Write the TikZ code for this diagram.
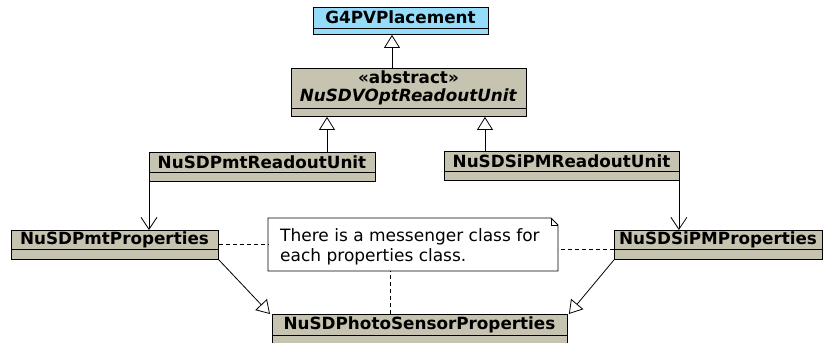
\documentclass[tikz,border=0pt]{standalone}
\usepackage{fontspec}
\setmainfont{DejaVu Sans}
\usetikzlibrary{arrows.meta,calc}
\definecolor{classfill}{RGB}{198,196,176}
\definecolor{bluefill}{RGB}{148,220,250}
\begin{document}
\begin{tikzpicture}[x=1pt,y=-1pt,
  classbox/.style={draw=black,line width=0.9pt,anchor=north west,inner sep=0pt},
  lbl/.style={font=\fontsize{16.8}{19}\selectfont\bfseries,inner sep=0pt},
  inh/.style={draw=black,line width=0.8pt,-{Triangle[open,width=16pt,length=13pt]}},
  assoc/.style={draw=black,line width=0.8pt,-{Straight Barb[width=16pt,length=12pt,line width=0.8pt]}},
  notelink/.style={draw=black,line width=0.8pt,dash pattern=on 4pt off 3pt}]
\useasboundingbox (0,0) rectangle (823,343);

% G4PVPlacement
\node[classbox,fill=bluefill,minimum width=175pt,minimum height=27pt] (g4) at (313,7) {};
\draw[line width=0.9pt] (313,28) -- (488,28);
\node[lbl] (g4t) at (400.5,17.5) {G4PVPlacement};

% abstract
\node[classbox,fill=classfill,minimum width=235pt,minimum height=48pt] (abs) at (291,68) {};
\draw[line width=0.9pt] (291,108) -- (526,108);
\node[lbl,align=center] (abst) at (408.5,88) {«abstract»\\[-1pt]\textit{NuSDVOptReadoutUnit}};

% readout units
\node[classbox,fill=classfill,minimum width=226pt,minimum height=29pt] (pmtr) at (149,152) {};
\draw[line width=0.9pt] (149,172) -- (375,172);
\node[lbl] (pmtrt) at (262,162) {NuSDPmtReadoutUnit};

\node[classbox,fill=classfill,minimum width=235pt,minimum height=29pt] (sipr) at (444,151) {};
\draw[line width=0.9pt] (444,171) -- (679,171);
\node[lbl] (siprt) at (561.5,161) {NuSDSiPMReadoutUnit};

% properties
\node[classbox,fill=classfill,minimum width=207pt,minimum height=29pt] (pmtp) at (11,230) {};
\draw[line width=0.9pt] (11,249) -- (218,249);
\node[lbl] (pmtpt) at (114.5,240) {NuSDPmtProperties};

\node[classbox,fill=classfill,minimum width=208pt,minimum height=29pt] (sipp) at (614,230) {};
\draw[line width=0.9pt] (614,249) -- (822,249);
\node[lbl] (sippt) at (718,240) {NuSDSiPMProperties};

\node[classbox,fill=classfill,minimum width=295pt,minimum height=35pt] (phot) at (272,314) {};
\draw[line width=0.9pt] (272,335) -- (567,335);
\node[lbl] (phott) at (419.5,325) {NuSDPhotoSensorProperties};

% note
\coordinate (nnw) at (268,218);
\coordinate (nse) at (558,271);
\draw[line width=0.8pt,fill=white] (268,218) -- (551,218) -- (558,225) -- (558,271) -- (268,271) -- cycle;
\draw[line width=0.6pt] (551,218) -- (551,225) -- (558,225);
\node[font=\fontsize{17}{20}\selectfont,align=left,anchor=north west,inner sep=0pt] (note) at (280,228)
  {There is a messenger class for\\each properties class.};

% inheritance
\draw[inh] (abs.north -| g4t.south) ++(-8.5,0) coordinate (a1) -- (a1 |- g4.south);
\draw[inh] ($(pmtr.north west)+(178,0)$) coordinate (a2) -- (a2 |- abs.south);
\draw[inh] ($(sipr.north west)+(41,0)$) coordinate (a3) -- (a3 |- abs.south);
\draw[inh] (pmtp.south east) -- ($(phot.north west)+(-2,0)$);
\draw[inh] (sipp.south west) -- ($(phot.north east)+(1,0)$);

% associations
\draw[assoc] (pmtr.south west) -- (pmtr.south west |- pmtp.north);
\draw[assoc] ($(sipr.south east)+(-1,0)$) coordinate (a4) -- (a4 |- sipp.north);

% note links
\draw[notelink] ($(pmtp.north east)+(0,14)$) coordinate (d1) -- (d1 -| nnw);
\draw[notelink] ($(sipp.north west)+(0,19)$) coordinate (d2) -- (d2 -| nse);
\draw[notelink] ($(phot.north west)+(118,0)$) coordinate (d3) -- (d3 |- nse);
\end{tikzpicture}
\end{document}
